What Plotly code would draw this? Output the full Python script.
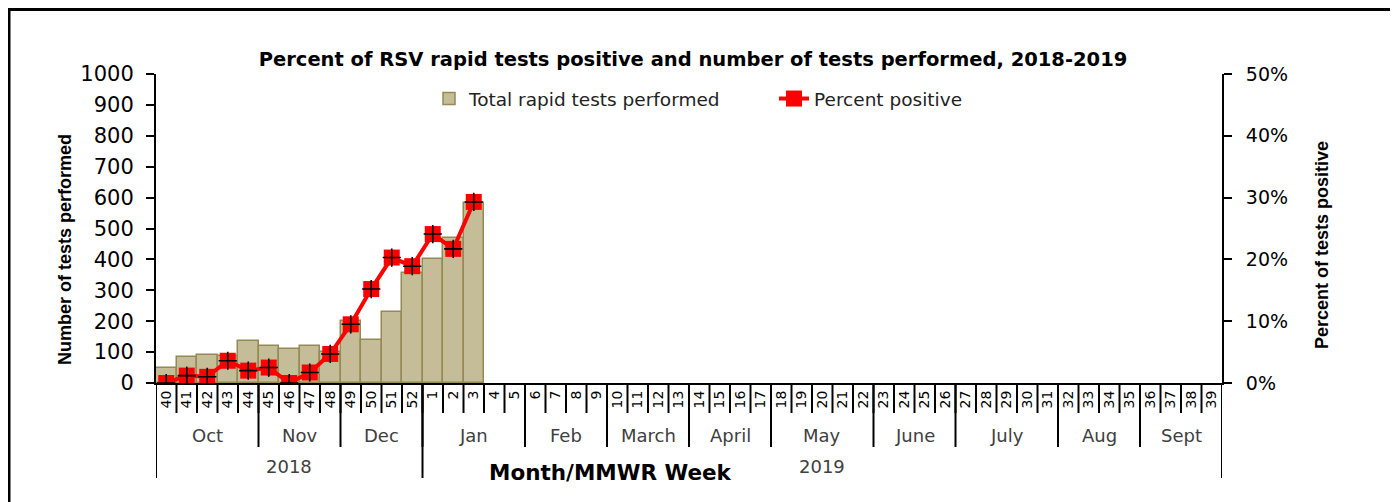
import plotly.graph_objects as go

# ---- data ----
weeks = ["40", "41", "42", "43", "44", "45", "46", "47", "48", "49", "50", "51", "52",
         "1", "2", "3", "4", "5", "6", "7", "8", "9", "10", "11", "12", "13", "14", "15",
         "16", "17", "18", "19", "20", "21", "22", "23", "24", "25", "26", "27", "28",
         "29", "30", "31", "32", "33", "34", "35", "36", "37", "38", "39"]
tests_observed = [50, 83, 92, 88, 136, 121, 109, 121, 100, 200, 139, 230, 357, 400, 468, 583]
pct_observed = [0.0, 0.012, 0.010, 0.036, 0.020, 0.025, 0.0, 0.017, 0.047, 0.095,
                0.152, 0.203, 0.189, 0.241, 0.217, 0.293]
months = ["Oct", "Nov", "Dec", "Jan", "Feb", "March", "April", "May", "June", "July", "Aug", "Sept"]
month_weeks = [5, 4, 4, 5, 4, 4, 4, 5, 4, 5, 4, 4]
years = ["2018", "2019"]
year_weeks = [13, 39]

n = len(weeks)
tests = tests_observed + [None] * (n - len(tests_observed))
pct = pct_observed + [None] * (n - len(pct_observed))

FONT = "DejaVu Sans"
NARROW = "Liberation Sans"

# ---- layout geometry (page pixels; the page body adds an 8px offset) ----
OFF = 8
PAGE_W, PAGE_H = 1398, 502
W, H = PAGE_W - OFF, PAGE_H - OFF
L, R, T, B = 156 - OFF, 1222 - OFF, 74 - OFF, 383 - OFF

def px(xp):
    return (xp - OFF - L) / (R - L)

def py(yp):
    return (B - (yp - OFF)) / (B - T)

fig = go.Figure()
fig.add_trace(go.Bar(
    x=weeks, y=tests, name="Total rapid tests performed",
    marker=dict(color="#c4bd97", line=dict(color="#948a54", width=1.5)),
))
fig.add_trace(go.Scatter(
    x=weeks, y=pct, yaxis="y2", name="Percent positive", mode="lines+markers",
    line=dict(color="#ff0000", width=4),
    marker=dict(symbol="square", size=16, color="#ff0000"),
))
fig.add_trace(go.Scatter(
    x=weeks, y=pct, yaxis="y2", showlegend=False, mode="markers", hoverinfo="skip",
    marker=dict(symbol="cross-thin", size=13, color="#000000",
                line=dict(color="#000000", width=1.6)),
))

shapes = []
annotations = []
# week cells
for i in range(n + 1):
    shapes.append(dict(type="line", xref="x", yref="paper", x0=i - 0.5, x1=i - 0.5,
                       y0=0, y1=py(413), line=dict(color="black", width=2)))
# month separators and labels
pos = 0
for m, k in zip(months, month_weeks):
    shapes.append(dict(type="line", xref="x", yref="paper", x0=pos - 0.5, x1=pos - 0.5,
                       y0=0, y1=py(447), line=dict(color="black", width=2)))
    annotations.append(dict(text=m, xref="x", yref="paper", x=pos + (k - 1) / 2, y=py(435),
                            xanchor="center", yanchor="middle", showarrow=False,
                            font=dict(family=FONT, size=18, color="#404040")))
    pos += k
# year separators and labels
pos = 0
for yv, k in zip(years, year_weeks):
    shapes.append(dict(type="line", xref="x", yref="paper", x0=pos - 0.5, x1=pos - 0.5,
                       y0=0, y1=py(478), line=dict(color="black", width=2)))
    annotations.append(dict(text=yv, xref="x", yref="paper", x=pos + (k - 1) / 2, y=py(466),
                            xanchor="center", yanchor="middle", showarrow=False,
                            font=dict(family=FONT, size=18, color="#404040")))
    pos += k
shapes.append(dict(type="line", xref="x", yref="paper", x0=pos - 0.5, x1=pos - 0.5,
                   y0=0, y1=py(478), line=dict(color="black", width=2)))

# outer border
shapes.append(dict(type="line", xref="paper", yref="paper", x0=px(8), x1=px(1396),
                   y0=py(9.5), y1=py(9.5), line=dict(color="black", width=3)))
shapes.append(dict(type="line", xref="paper", yref="paper", x0=px(9), x1=px(9),
                   y0=py(9), y1=py(520), line=dict(color="black", width=3)))
shapes.append(dict(type="line", xref="paper", yref="paper", x0=px(1396), x1=px(1396),
                   y0=py(9), y1=py(520), line=dict(color="#a6a6a6", width=2.5)))

annotations += [
    dict(text="Month/MMWR Week", xref="paper", yref="paper", x=px(610), y=py(472),
         xanchor="center", yanchor="middle", showarrow=False,
         font=dict(family=FONT, size=21.5, color="black", weight="bold")),
    dict(text="Number of tests performed", xref="paper", yref="paper", x=px(65), y=py(250),
         xanchor="center", yanchor="middle", textangle=-90, showarrow=False,
         font=dict(family=NARROW, size=18, color="black", weight="bold")),
    dict(text="Percent of tests positive", xref="paper", yref="paper", x=px(1322), y=py(245),
         xanchor="center", yanchor="middle", textangle=-90, showarrow=False,
         font=dict(family=NARROW, size=18, color="black", weight="bold")),
]

fig.update_layout(
    width=W, height=H,
    margin=dict(l=L, r=W - R, t=T, b=H - B, pad=0),
    plot_bgcolor="white", paper_bgcolor="white",
    bargap=0,
    showlegend=True,
    title=dict(text="Percent of RSV rapid tests positive and number of tests performed, 2018-2019",
               x=(693 - OFF) / W, xanchor="center", xref="container",
               y=1 - (59 - OFF) / H, yanchor="middle", yref="container",
               font=dict(family=FONT, size=19.5, color="black", weight="bold")),
    legend=dict(orientation="h", x=px(429), xanchor="left", y=py(99), yanchor="middle",
                font=dict(family=FONT, size=18.5, color="#222222"),
                bgcolor="rgba(0,0,0,0)", entrywidth=300, entrywidthmode="pixels"),
    xaxis=dict(type="category", categoryorder="array", categoryarray=weeks,
               range=[-0.5, n - 0.5], tickangle=-90, ticks="", showgrid=False,
               showline=True, linecolor="black", linewidth=2,
               tickfont=dict(family=FONT, size=14, color="black")),
    yaxis=dict(range=[0, 1000], dtick=100, showgrid=False, showline=True,
               linecolor="black", linewidth=2, ticks="outside", ticklen=8,
               tickcolor="black", tickwidth=2, ticklabelstandoff=8, zeroline=False,
               tickfont=dict(family=FONT, size=21, color="black")),
    yaxis2=dict(range=[0, 0.5], dtick=0.1, tickformat=".0%", overlaying="y", side="right",
                showgrid=False, showline=True, linecolor="black", linewidth=2,
                ticks="outside", ticklen=8, tickcolor="black", tickwidth=2,
                ticklabelstandoff=10, zeroline=False,
                tickfont=dict(family=FONT, size=19, color="black")),
    shapes=shapes,
    annotations=annotations,
)

fig.write_html("out.html")
